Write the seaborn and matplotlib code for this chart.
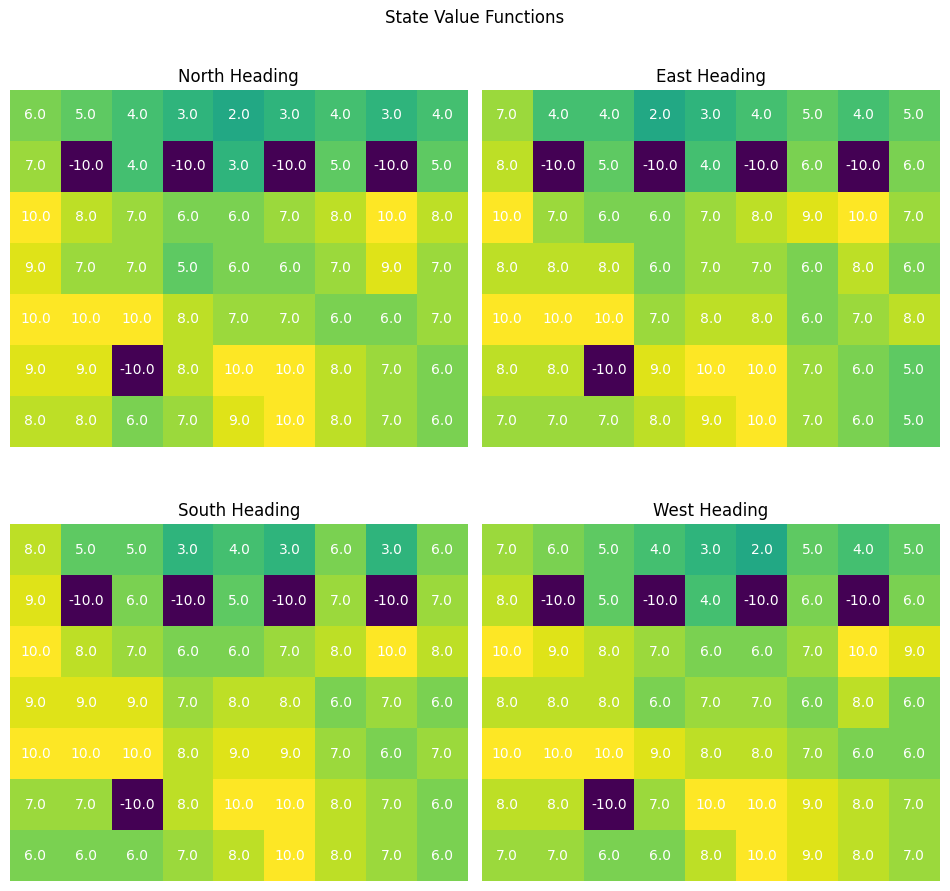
import numpy as np
import seaborn as sns
import matplotlib
matplotlib.use("Agg")
import matplotlib.pyplot as plt

headings = ["North Heading", "East Heading", "South Heading", "West Heading"]

north = [
    [6, 5, 4, 3, 2, 3, 4, 3, 4],
    [7, -10, 4, -10, 3, -10, 5, -10, 5],
    [10, 8, 7, 6, 6, 7, 8, 10, 8],
    [9, 7, 7, 5, 6, 6, 7, 9, 7],
    [10, 10, 10, 8, 7, 7, 6, 6, 7],
    [9, 9, -10, 8, 10, 10, 8, 7, 6],
    [8, 8, 6, 7, 9, 10, 8, 7, 6],
]
east = [
    [7, 4, 4, 2, 3, 4, 5, 4, 5],
    [8, -10, 5, -10, 4, -10, 6, -10, 6],
    [10, 7, 6, 6, 7, 8, 9, 10, 7],
    [8, 8, 8, 6, 7, 7, 6, 8, 6],
    [10, 10, 10, 7, 8, 8, 6, 7, 8],
    [8, 8, -10, 9, 10, 10, 7, 6, 5],
    [7, 7, 7, 8, 9, 10, 7, 6, 5],
]
south = [
    [8, 5, 5, 3, 4, 3, 6, 3, 6],
    [9, -10, 6, -10, 5, -10, 7, -10, 7],
    [10, 8, 7, 6, 6, 7, 8, 10, 8],
    [9, 9, 9, 7, 8, 8, 6, 7, 6],
    [10, 10, 10, 8, 9, 9, 7, 6, 7],
    [7, 7, -10, 8, 10, 10, 8, 7, 6],
    [6, 6, 6, 7, 8, 10, 8, 7, 6],
]
west = [
    [7, 6, 5, 4, 3, 2, 5, 4, 5],
    [8, -10, 5, -10, 4, -10, 6, -10, 6],
    [10, 9, 8, 7, 6, 6, 7, 10, 9],
    [8, 8, 8, 6, 7, 7, 6, 8, 6],
    [10, 10, 10, 9, 8, 8, 7, 6, 6],
    [8, 8, -10, 7, 10, 10, 9, 8, 7],
    [7, 7, 6, 6, 8, 10, 9, 8, 7],
]

grids = [north, east, south, west]

fig, axes = plt.subplots(2, 2, figsize=(9.5, 8.91), dpi=100)
fig.subplots_adjust(left=0.0105, right=0.989, bottom=0.0112, top=0.899,
                    wspace=0.031, hspace=0.218)

for ax, title, grid in zip(axes.flat, headings, grids):
    sns.heatmap(np.array(grid, dtype=float), ax=ax, cmap="viridis",
                vmin=-10, vmax=10, annot=True, fmt=".1f", cbar=False,
                annot_kws={"color": "white", "fontsize": 10},
                xticklabels=False, yticklabels=False)
    ax.set_title(title, fontsize=12)
    ax.tick_params(left=False, bottom=False)

fig.suptitle("State Value Functions", fontsize=12, y=0.99)
fig.savefig("out.png", dpi=100)
